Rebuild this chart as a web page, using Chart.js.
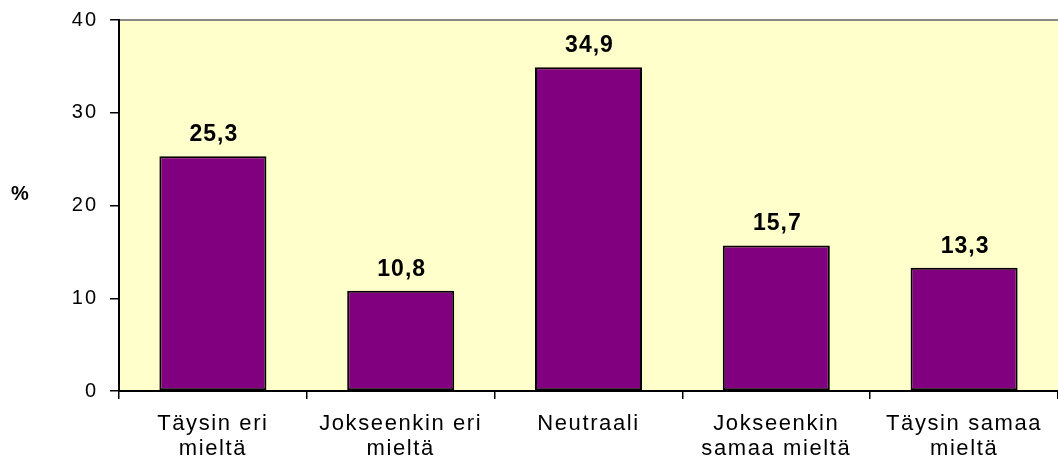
<!DOCTYPE html>
<html>
<head>
<meta charset="utf-8">
<script src="https://cdn.jsdelivr.net/npm/chart.js@4/dist/chart.umd.min.js"></script>
<style>
html,body{margin:0;padding:0;background:#fff;}
#wrap{width:1058px;height:460px;position:relative;}
</style>
</head>
<body>
<div id="wrap"><canvas id="c" width="1058" height="460"></canvas></div>
<script>
const categories = [["Täysin eri","mieltä"],["Jokseenkin eri","mieltä"],["Neutraali"],["Jokseenkin","samaa mieltä"],["Täysin samaa","mieltä"]];
const values = [25.3, 10.8, 34.9, 15.7, 13.3];
const yTicks = [0, 10, 20, 30, 40];
const axisTitle = "%";

const FONT = "'Liberation Sans', Arial, sans-serif";

function spaced(scale, ls) {
  if (scale._lsPatched) return;
  const orig = scale.drawLabels.bind(scale);
  scale.drawLabels = function (area) {
    const ctx = scale.ctx;
    const prev = ctx.letterSpacing;
    ctx.letterSpacing = ls;
    orig(area);
    ctx.letterSpacing = prev || '0px';
  };
  scale._lsPatched = true;
}

const bgPlugin = {
  id: 'bg',
  beforeDraw(chart) {
    const {ctx, chartArea: a} = chart;
    ctx.save();
    ctx.fillStyle = '#FFFFCC';
    ctx.fillRect(a.left, a.top, a.right - a.left, a.bottom - a.top);
    ctx.strokeStyle = '#888888';
    ctx.lineWidth = 2;
    ctx.beginPath();
    ctx.moveTo(a.left, a.top);
    ctx.lineTo(a.right, a.top);
    ctx.stroke();
    ctx.restore();
  },
  afterDatasetsDraw(chart) {
    const {ctx} = chart;
    const meta = chart.getDatasetMeta(0);
    ctx.save();
    ctx.letterSpacing = '1px';
    ctx.font = "bold 23px " + FONT;
    ctx.fillStyle = '#000';
    ctx.textAlign = 'center';
    ctx.textBaseline = 'alphabetic';
    meta.data.forEach((bar, i) => {
      const txt = values[i].toFixed(1).replace('.', ',');
      ctx.fillText(txt, bar.x + 1, bar.y - 15);
    });
    ctx.letterSpacing = '0px';
    ctx.font = "bold 20px " + FONT;
    ctx.textBaseline = 'middle';
    ctx.fillText(axisTitle, 20, 194);
    ctx.restore();
  }
};

new Chart(document.getElementById('c'), {
  type: 'bar',
  data: {
    labels: categories,
    datasets: [{
      data: values,
      backgroundColor: '#800080',
      borderColor: '#000000',
      borderWidth: 2,
      borderSkipped: false,
      barPercentage: 0.57,
      categoryPercentage: 1.0
    }]
  },
  options: {
    responsive: false,
    animation: false,
    devicePixelRatio: 1,
    layout: { padding: { top: 20, left: 0, right: 0, bottom: 0 } },
    plugins: { legend: { display: false }, tooltip: { enabled: false } },
    scales: {
      x: {
        offset: true,
        grid: { display: true, drawOnChartArea: false, drawTicks: true, tickLength: 8, color: '#000', lineWidth: 1.5, offset: true },
        border: { display: true, color: '#000', width: 2 },
        ticks: { color: '#000', font: { family: FONT, size: 22, lineHeight: 1.12 }, padding: 13, maxRotation: 0, autoSkip: false },
        afterFit(s) { s.height = 69; s.paddingLeft = 0; s.paddingRight = 0; spaced(s, '1.6px'); }
      },
      y: {
        min: 0, max: 40,
        afterBuildTicks(s) { s.ticks = yTicks.map(v => ({value: v})); },
        grid: { display: true, drawOnChartArea: false, drawTicks: true, tickLength: 9, color: '#000', lineWidth: 1.5 },
        border: { display: true, color: '#000', width: 2 },
        ticks: { color: '#000', font: { family: FONT, size: 20 }, padding: 12 },
        afterFit(s) { s.width = 119; s.paddingTop = 0; s.paddingBottom = 0; spaced(s, '2px'); }
      }
    }
  },
  plugins: [bgPlugin]
});
</script>
</body>
</html>
